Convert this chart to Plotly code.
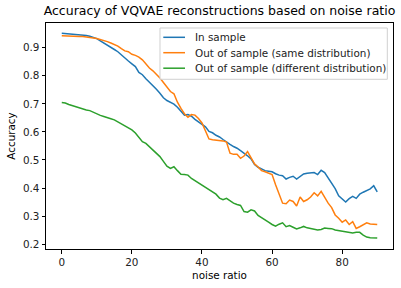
import plotly.graph_objects as go

noise_ratio = list(range(0, 91))

in_sample = [
    0.952, 0.951, 0.950, 0.949, 0.948, 0.947, 0.945, 0.944, 0.941, 0.937,
    0.933, 0.925, 0.918, 0.910, 0.901, 0.894, 0.886, 0.874, 0.864, 0.853,
    0.843, 0.833, 0.812, 0.804, 0.790, 0.778, 0.766, 0.752, 0.738, 0.722,
    0.712, 0.706, 0.699, 0.688, 0.672, 0.660, 0.662, 0.656, 0.645, 0.636,
    0.626, 0.618, 0.602, 0.597, 0.588, 0.582, 0.573, 0.566, 0.556, 0.548,
    0.542, 0.533, 0.525, 0.515, 0.504, 0.484, 0.474, 0.468, 0.462, 0.460,
    0.458, 0.451, 0.446, 0.444, 0.432, 0.438, 0.442, 0.432, 0.442, 0.450,
    0.453, 0.455, 0.455, 0.448, 0.463, 0.455, 0.437, 0.418, 0.398, 0.372,
    0.362, 0.350, 0.362, 0.370, 0.363, 0.378, 0.385, 0.390, 0.397, 0.408,
    0.386,
]

out_same = [
    0.943, 0.942, 0.942, 0.941, 0.941, 0.940, 0.940, 0.939, 0.937, 0.935,
    0.933, 0.930, 0.926, 0.922, 0.917, 0.911, 0.906, 0.897, 0.889, 0.886,
    0.877, 0.873, 0.867, 0.857, 0.842, 0.828, 0.818, 0.806, 0.792, 0.776,
    0.760, 0.744, 0.736, 0.706, 0.684, 0.665, 0.652, 0.662, 0.660, 0.648,
    0.632, 0.604, 0.575, 0.572, 0.571, 0.569, 0.568, 0.564, 0.524, 0.520,
    0.520, 0.506, 0.514, 0.530, 0.508, 0.486, 0.475, 0.462, 0.458, 0.454,
    0.448, 0.412, 0.380, 0.346, 0.344, 0.357, 0.352, 0.336, 0.368, 0.352,
    0.358, 0.368, 0.383, 0.372, 0.388, 0.366, 0.346, 0.330, 0.304, 0.292,
    0.278, 0.286, 0.270, 0.280, 0.256, 0.262, 0.270, 0.276, 0.272, 0.272,
    0.270,
]

out_diff = [
    0.705, 0.703, 0.698, 0.694, 0.690, 0.684, 0.680, 0.678, 0.676, 0.670,
    0.664, 0.659, 0.655, 0.652, 0.647, 0.643, 0.636, 0.628, 0.620, 0.614,
    0.607, 0.596, 0.580, 0.565, 0.559, 0.548, 0.536, 0.526, 0.512, 0.495,
    0.478, 0.470, 0.476, 0.462, 0.449, 0.448, 0.446, 0.434, 0.426, 0.420,
    0.413, 0.405, 0.397, 0.389, 0.378, 0.364, 0.358, 0.363, 0.354, 0.346,
    0.341, 0.338, 0.316, 0.314, 0.322, 0.318, 0.302, 0.293, 0.285, 0.278,
    0.270, 0.264, 0.271, 0.276, 0.262, 0.266, 0.260, 0.254, 0.258, 0.263,
    0.258, 0.256, 0.254, 0.250, 0.252, 0.257, 0.256, 0.255, 0.250, 0.248,
    0.245, 0.244, 0.241, 0.240, 0.242, 0.242, 0.232, 0.225, 0.223, 0.223,
    0.222,
]

series_names = [
    "In sample",
    "Out of sample (same distribution)",
    "Out of sample (different distribution)",
]
series_colors = ["#1f77b4", "#ff7f0e", "#2ca02c"]

x_ticks = [0, 20, 40, 60, 80]
y_ticks = [0.2, 0.3, 0.4, 0.5, 0.6, 0.7, 0.8, 0.9]

fig = go.Figure()
for name, vals, col in zip(series_names, [in_sample, out_same, out_diff], series_colors):
    fig.add_trace(go.Scatter(x=noise_ratio, y=vals, mode="lines", name=name,
                             line=dict(color=col, width=1.5), showlegend=False))

font = "DejaVu Sans, sans-serif"
tick_size = 10.4
axis_common = dict(showline=True, linecolor="black", linewidth=1, mirror=True,
                   ticks="outside", ticklen=3.5, tickwidth=1, tickcolor="black",
                   showgrid=False, zeroline=False,
                   tickfont=dict(family=font, size=tick_size, color="#222"))

# matplotlib-style legend box (layout decoration in paper coordinates)
shapes = [dict(type="rect", xref="paper", yref="paper", x0=0.3285, x1=0.9836,
               y0=0.7509, y1=0.9779, fillcolor="rgba(255,255,255,0.8)",
               line=dict(color="#d0d0d0", width=1), layer="above")]
annotations = []
legend_rows = [0.9367, 0.8686, 0.8000]
for name, col, ry in zip(series_names, series_colors, legend_rows):
    shapes.append(dict(type="line", xref="paper", yref="paper", x0=0.338, x1=0.4006,
                       y0=ry, y1=ry, line=dict(color=col, width=1.5), layer="above"))
    annotations.append(dict(text=name, xref="paper", yref="paper", x=0.4228, y=ry,
                            xanchor="left", yanchor="middle", showarrow=False,
                            font=dict(family=font, size=tick_size, color="#222")))

fig.update_layout(
    width=401, height=288,
    margin=dict(l=46, r=8, t=23, b=39),
    paper_bgcolor="white", plot_bgcolor="white",
    font=dict(family=font, size=10, color="black"),
    title=dict(text="Accuracy of VQVAE reconstructions based on noise ratio",
               x=0.5, xref="paper", xanchor="center", y=0.9618, yanchor="middle",
               font=dict(family=font, size=12.5, color="black")),
    xaxis=dict(range=[-4.5, 94.5], tickvals=x_ticks,
               title=dict(text="noise ratio", standoff=4, font=dict(family=font, size=tick_size)),
               **axis_common),
    yaxis=dict(range=[0.1825, 0.9885], tickvals=y_ticks, tickformat=".1f",
               title=dict(text="Accuracy", standoff=5, font=dict(family=font, size=tick_size)),
               **axis_common),
    shapes=shapes,
    annotations=annotations,
    showlegend=False,
)

fig.write_html("out.html", config={"displayModeBar": False},
               post_script="document.body.style.margin='0';")
